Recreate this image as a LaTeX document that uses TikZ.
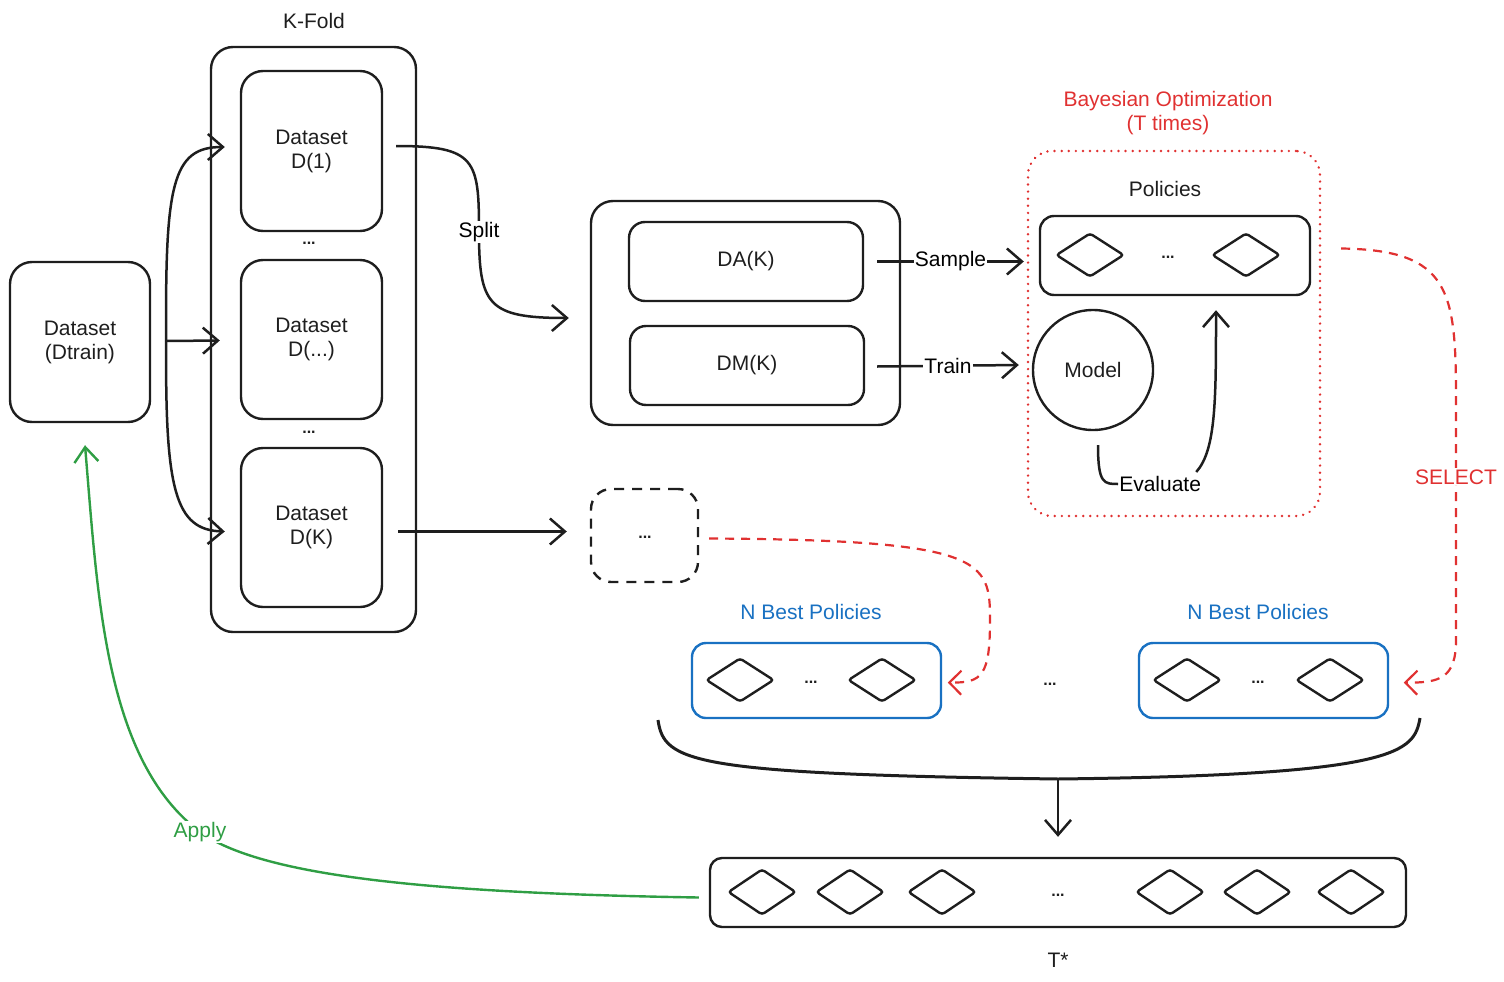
\documentclass[tikz,border=0pt]{standalone}
\usepackage{fontspec}
\setmainfont{Liberation Sans}
\usetikzlibrary{arrows.meta,shapes.geometric,calc}
\definecolor{ink}{HTML}{1E1E1E}
\definecolor{xred}{HTML}{E03131}
\definecolor{xblue}{HTML}{1971C2}
\definecolor{xgreen}{HTML}{2F9E44}
\newcommand{\fs}{\fontsize{21}{24}\selectfont}
\newcommand{\fsd}{\fontsize{16}{18}\selectfont\bfseries}
\begin{document}
\begin{tikzpicture}[x=1pt,y=-1pt,
  box/.style={draw=ink, line width=2.4pt, rounded corners=22pt, inner sep=0pt, font=\fs, align=center, text=ink},
  pbox/.style={draw=ink, line width=2.4pt, rounded corners=14pt, inner sep=0pt},
  bbox/.style={draw=xblue, line width=2.4pt, rounded corners=14pt, inner sep=0pt},
  dia/.style={diamond, draw=ink, line width=2.4pt, minimum width=68, minimum height=44, inner sep=0pt, rounded corners=3pt},
  lbl/.style={font=\fs, text=ink, align=center, inner sep=1pt},
  dotsl/.style={font=\fsd, text=ink, inner sep=0pt},
  con/.style={draw=ink, line width=2.5pt},
  arr/.style={con, -{Straight Barb[length=15pt,width=26pt,line width=2.5pt]}},
  redarr/.style={draw=xred, line width=2.2pt, dash pattern=on 9pt off 7pt, -{Straight Barb[length=12pt,width=24pt,line width=2.2pt,sep]}},
  greenarr/.style={draw=xgreen, line width=2.4pt, -{Straight Barb[length=15pt,width=24pt,line width=2.4pt]}},
  onlbl/.style={fill=white, font=\fs, inner sep=1pt},
]
\useasboundingbox (0,0) rectangle (1504,982);

% left dataset
\node[box, minimum width=140, minimum height=160] (dtrain) at (80,342) {Dataset\\(Dtrain)};

% K-Fold
\node[box, minimum width=205, minimum height=585] (kfold) at (313.5,339.5) {};
\node[lbl] (kfoldl) at (314,21) {K-Fold};
\node[box, minimum width=141, minimum height=160] (d1) at (311.5,151) {Dataset\\D(1)};
\node[box, minimum width=141, minimum height=159] (dm) at (311.5,339.5) {Dataset\\D(...)};
\node[box, minimum width=141, minimum height=159] (dk) at (311.5,527.5) {Dataset\\D(K)};
\node[dotsl] (kd1) at (309,243) {...};
\node[dotsl] (kd2) at (309,432) {...};

% split container
\node[box, minimum width=309, minimum height=224] (sp) at (745.5,313) {};
\node[box, rounded corners=16pt, minimum width=234, minimum height=79] (da) at (746,261.5) {DA(K)};
\node[box, rounded corners=16pt, minimum width=234, minimum height=79] (dmk) at (747,365.5) {DM(K)};

% Bayesian optimization
\node[draw=xred, line width=2.6pt, dash pattern=on 0.1pt off 7pt, line cap=round, rounded corners=24pt, minimum width=292, minimum height=365, inner sep=0pt] (bo) at (1174,333.5) {};
\node[lbl, text=xred] (bol) at (1168,113) {Bayesian Optimization\\(T times)};
\node[lbl] (poll) at (1165,189) {Policies};
\node[pbox, minimum width=270, minimum height=79] (pol) at (1175,255.5) {};
\node[dia] (pa) at (1090,255) {};
\node[dia] (pb) at (1246,255) {};
\node[dotsl] (pd) at (1168,257) {...};
\node[circle, draw=ink, line width=2.4pt, minimum size=120, inner sep=0pt, font=\fs, text=ink] (model) at (1093,370) {Model};

% dashed placeholder
\node[draw=ink, line width=2.4pt, dash pattern=on 10pt off 8pt, rounded corners=20pt, minimum width=107, minimum height=93, inner sep=0pt] (dots) at (644.5,535.5) {};
\node[dotsl] (dotsd) at (645,537) {...};

% N best policies
\node[lbl, text=xblue] (nb1l) at (811,612) {N Best Policies};
\node[lbl, text=xblue] (nb2l) at (1258,612) {N Best Policies};
\node[bbox, minimum width=249, minimum height=75] (nb1) at (816.5,680.5) {};
\node[bbox, minimum width=249, minimum height=75] (nb2) at (1263.5,680.5) {};
\node[dia] (n1a) at (740,680) {};
\node[dia] (n1b) at (882,680) {};
\node[dotsl] (n1d) at (811,682) {...};
\node[dia] (n2a) at (1187,680) {};
\node[dia] (n2b) at (1330,680) {};
\node[dotsl] (n2d) at (1258,682) {...};
\node[dotsl] (nmid) at (1050,684) {...};

% T*
\node[pbox, rounded corners=12pt, minimum width=696, minimum height=69] (tstar) at (1058,892.5) {};
\node[dia, minimum width=68, minimum height=46] (t1) at (762,892) {};
\node[dia, minimum width=68, minimum height=46] (t2) at (850,892) {};
\node[dia, minimum width=68, minimum height=46] (t3) at (942,892) {};
\node[dia, minimum width=68, minimum height=46] (t4) at (1170,892) {};
\node[dia, minimum width=68, minimum height=46] (t5) at (1257,892) {};
\node[dia, minimum width=68, minimum height=46] (t6) at (1351,892) {};
\node[dotsl] (td) at (1058,895) {...};
\node[lbl] (tstarl) at (1058,960) {T*};

% connectors: Dtrain -> folds
\coordinate (fork) at ($(dtrain.east)+(15,-1)$);
\draw[arr] (fork) .. controls (165,185) and (172,147) .. ($(d1.west)+(-15,-4)$);
\draw[arr] (fork) -- ($(dm.west)+(-20,1)$);
\draw[arr] (fork) .. controls (165,490) and (175,530) .. ($(dk.west)+(-15,4)$);

% split
\draw[arr] ($(d1.east)+(13,-5)$) .. controls (476,146) and (479,160) .. (479,232)
  node[onlbl] (splitl) {Split}
  .. controls (479,305) and (488,318) .. ($(sp.west)+(-21,5)$);

% sample / train
\draw[arr] ($(da.east)+(13,0)$) -- node[onlbl] {Sample} ($(pol.west)+(-15,6)$);
\draw[arr] ($(dmk.east)+(12,1)$) -- node[onlbl] {Train} ($(model.west)+(-13,-5)$);

% evaluate
\draw[con] ($(model.south)+(5,14)$) .. controls (1098,484) and (1104,484) .. (1118,484)
  node[onlbl, anchor=west, inner sep=0pt] (evl) {Evaluate};
\draw[arr] ($(evl.east)+(-6,-12)$) .. controls (1216,450) and (1216,400) .. ($(pol.south)+(41,14)$);

% D(K) -> placeholder
\draw[arr] ($(dk.east)+(15,4)$) -- ($(dots.west)+(-23,-4)$);

% red dashed to N best
\draw[redarr] ($(dots.east)+(10,3)$) .. controls (985,540) and (990,560) .. (990,620)
  .. controls (990,676) and (982,683) .. ($(nb1.east)+(4,2)$);
\draw[redarr] ($(pol.east)+(30,-7)$) .. controls (1450,250) and (1456,290) .. (1456,400)
  -- node[onlbl, text=xred, pos=0.32] {SELECT} (1456,640)
  .. controls (1456,678) and (1440,683) .. ($(nb2.east)+(13,2)$);

% brace
\coordinate (bl) at (658,720);
\coordinate (br) at (1420,718);
\coordinate (bm) at (1058,779);
\draw[con, line width=3pt] (bl) .. controls (664,762) and (690,774) .. (bm)
  .. controls (1400,775) and (1414,752) .. (br);
\draw[arr] (bm) -- ($(tstar.north)+(0,-20)$);

% apply
\draw[greenarr] ($(tstar.west)+(-10,5)$) .. controls (420,893) and (260,875) .. (200,832)
  node[onlbl, text=xgreen] (apl) {Apply}
  .. controls (105,760) and (98,600) .. ($(dtrain.south)+(5,22)$);
\end{tikzpicture}
\end{document}
